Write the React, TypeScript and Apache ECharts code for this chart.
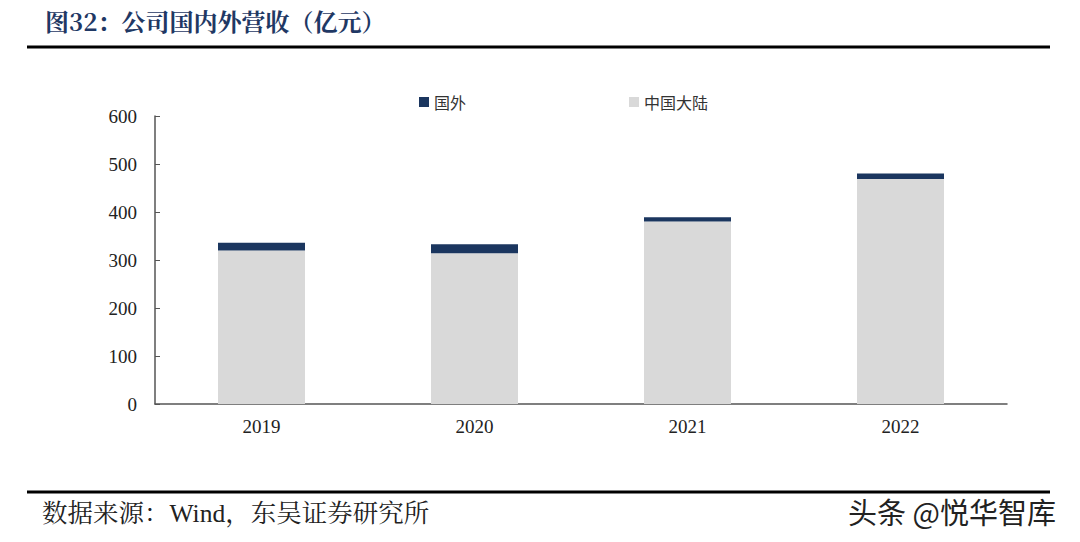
import React, { useEffect, useRef } from "react";
import * as echarts from "echarts";

const categories = ["2019", "2020", "2021", "2022"];
const domestic = [320, 314, 380, 469];
const overseas = [16, 19, 9, 11];
const yTicks = [0, 100, 200, 300, 400, 500, 600];

export default function App() {
  const ref = useRef<HTMLDivElement>(null);
  useEffect(() => {
    const chart = echarts.init(ref.current!, null, { renderer: "svg" });
    const serif = "'Liberation Serif', 'Noto Serif CJK SC', serif";
    const cjk = "'Noto Sans CJK SC', sans-serif";
    chart.setOption({
      animation: false,
      backgroundColor: "#fff",
      grid: { left: 155, right: 73, top: 116, bottom: 138 },
      legend: {
        top: 89,
        left: 414,
        itemWidth: 10,
        itemHeight: 10,
        itemGap: 163,
        icon: "rect",
        textStyle: { fontSize: 16, color: "#333", fontFamily: cjk },
        data: ["国外", "中国大陆"],
      },
      xAxis: {
        type: "category",
        data: categories,
        axisLine: { lineStyle: { color: "#555", width: 1.5 } },
        axisTick: { inside: true, length: 5, lineStyle: { color: "#555" } },
        axisLabel: { fontSize: 19, color: "#222", fontFamily: serif, margin: 13 },
      },
      yAxis: {
        type: "value",
        min: yTicks[0],
        max: yTicks[yTicks.length - 1],
        interval: 100,
        splitLine: { show: false },
        axisLine: { show: true, lineStyle: { color: "#555", width: 1.5 } },
        axisTick: { show: true, inside: true, length: 5, lineStyle: { color: "#555" } },
        axisLabel: { fontSize: 19, color: "#222", fontFamily: serif, margin: 18 },
      },
      series: [
        {
          name: "中国大陆",
          type: "bar",
          stack: "total",
          data: domestic,
          barWidth: 87,
          itemStyle: { color: "#d9d9d9" },
        },
        {
          name: "国外",
          type: "bar",
          stack: "total",
          data: overseas,
          barWidth: 87,
          itemStyle: { color: "#1b365f" },
        },
      ],
      graphic: [
        {
          type: "text",
          left: 45,
          top: 8,
          style: {
            text: "图32：公司国内外营收（亿元）",
            fontSize: 24,
            fontWeight: "bold",
            fill: "#1f3864",
            fontFamily: "'Noto Serif CJK SC', 'Noto Sans CJK SC', serif",
          },
        },
        {
          type: "line",
          shape: { x1: 27, y1: 47, x2: 1050, y2: 47 },
          style: { stroke: "#000", lineWidth: 3 },
        },
        {
          type: "line",
          shape: { x1: 27, y1: 492, x2: 1050, y2: 492 },
          style: { stroke: "#000", lineWidth: 3 },
        },
        {
          type: "text",
          left: 42,
          top: 501,
          style: {
            text: "数据来源：Wind，东吴证券研究所",
            fontSize: 25.5,
            fill: "#222",
            fontFamily: "'Liberation Serif', 'Noto Serif CJK SC', 'Noto Sans CJK SC', serif",
          },
        },
        {
          type: "text",
          left: 848,
          top: 496,
          style: {
            text: "头条 @悦华智库",
            fontSize: 29,
            fill: "#222",
            fontFamily: cjk,
          },
        },
      ],
    });
    return () => chart.dispose();
  }, []);
  return (
    <div
      ref={ref}
      style={{ position: "absolute", left: 0, top: 0, width: 1080, height: 542 }}
    />
  );
}
